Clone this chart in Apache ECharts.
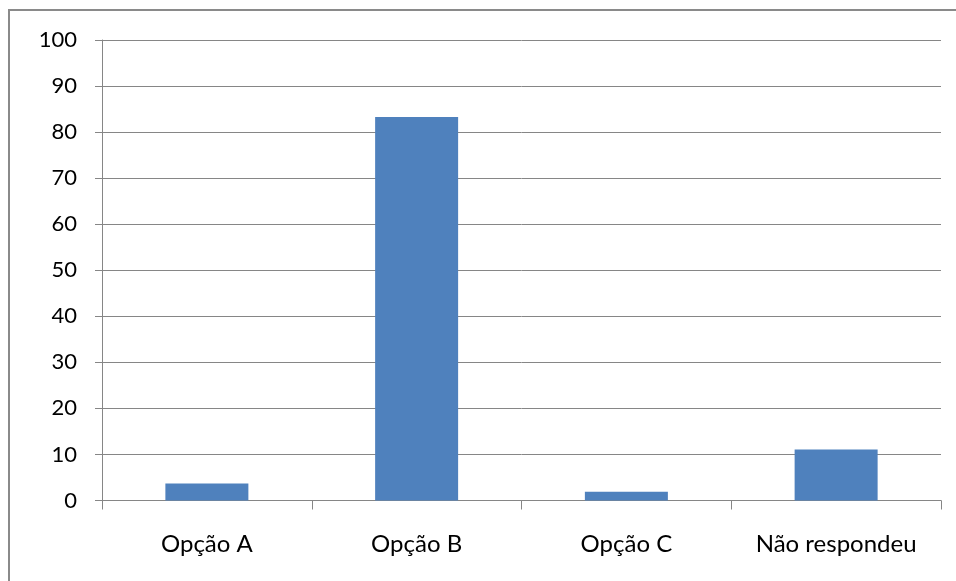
<!DOCTYPE html>
<html>
<head>
<meta charset="utf-8">
<script src="https://cdn.jsdelivr.net/npm/echarts@6/dist/echarts.min.js"></script>
<style>
html,body{margin:0;padding:0;background:#fff;}
#chart{width:956px;height:581px;}
</style>
</head>
<body>
<div id="chart"></div>
<script>
const categories = ['Opção A', 'Opção B', 'Opção C', 'Não respondeu'];
const values = [3.7, 83.3, 1.9, 11.1];
const yTicks = [0, 10, 20, 30, 40, 50, 60, 70, 80, 90, 100];

const chart = echarts.init(document.getElementById('chart'), null, {renderer: 'canvas'});
const axisGray = '#868686';
chart.setOption({
  animation: false,
  backgroundColor: '#ffffff',
  textStyle: {fontFamily: 'Lato'},
  graphic: [{
    type: 'rect',
    shape: {x: 9, y: 10, width: 1000, height: 700},
    style: {fill: 'none', stroke: '#8a8a8a', lineWidth: 2},
    silent: true
  }],
  grid: {left: 102, right: 15, top: 40, bottom: 80.5, containLabel: false},
  xAxis: {
    type: 'category',
    data: categories,
    axisLine: {show: true, lineStyle: {color: axisGray, width: 1}},
    axisTick: {show: true, length: 9, lineStyle: {color: axisGray}},
    axisLabel: {color: '#000', fontSize: 24, fontFamily: 'Lato', margin: 32}
  },
  yAxis: {
    type: 'value',
    min: yTicks[0],
    max: yTicks[yTicks.length - 1],
    interval: 10,
    axisLine: {show: true, lineStyle: {color: axisGray, width: 1}},
    axisTick: {show: true, length: 7, lineStyle: {color: axisGray}},
    axisLabel: {color: '#000', fontSize: 22, fontFamily: 'Lato', margin: 25},
    splitLine: {show: true, lineStyle: {color: axisGray, width: 1}}
  },
  series: [{
    type: 'bar',
    data: values,
    barWidth: 83,
    itemStyle: {color: '#4F81BD'}
  }]
});
</script>
</body>
</html>
